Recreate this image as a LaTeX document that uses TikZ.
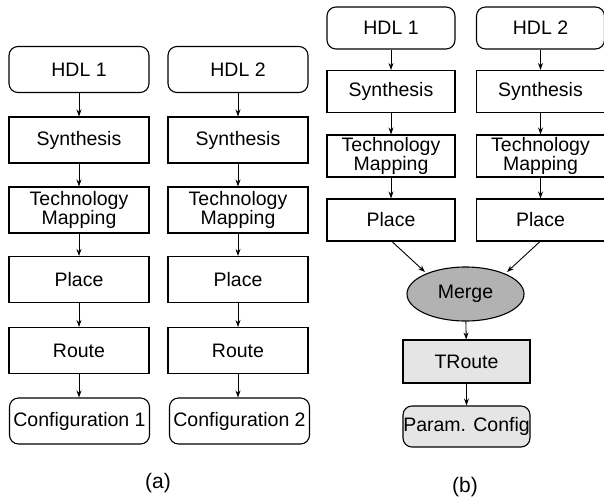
\documentclass[tikz,border=0pt]{standalone}
\usepackage{fontspec}
\setmainfont{Liberation Sans}
\usetikzlibrary{arrows.meta,shapes.geometric}
\begin{document}
\begin{tikzpicture}[x=1pt,y=-1pt,
  every node/.style={font=\fontsize{19.5}{19.5}\selectfont, inner sep=0pt, align=center},
  boxa/.style={draw, line width=1.1pt, minimum width=140pt, minimum height=46pt},
  rboxa/.style={boxa, rounded corners=9pt},
  boxb/.style={draw, line width=1.1pt, minimum width=128pt, minimum height=42pt},
  rboxb/.style={boxb, rounded corners=9pt},
  arr/.style={-{Stealth[length=7pt,width=5pt]}, line width=0.9pt},
  lbl/.style={font=\fontsize{21}{23}\selectfont}
]
\useasboundingbox (0,0) rectangle (604,498);
% (a) column 1
\node[rboxa] (h1) at (79,69.5) {HDL 1};
\node[boxa] (s1) at (79,140) {Synthesis};
\node[boxa] (t1) at (79,210) {Technology\\Mapping};
\node[boxa] (p1) at (79,279.5) {Place};
\node[boxa] (r1) at (79,350.5) {Route};
\node[rboxa] (c1) at (79.5,421) {Configuration 1};
% (a) column 2
\node[rboxa] (h2) at (238,69.5) {HDL 2};
\node[boxa] (s2) at (238,140) {Synthesis};
\node[boxa] (t2) at (238,210) {Technology\\Mapping};
\node[boxa] (p2) at (238,279.5) {Place};
\node[boxa] (r2) at (238,350.5) {Route};
\node[rboxa] (c2) at (239.5,421) {Configuration 2};
\foreach \c in {1,2}{
  \draw[arr] (h\c) -- (s\c);
  \draw[arr] (s\c) -- (t\c);
  \draw[arr] (t\c) -- (p\c);
  \draw[arr] (p\c) -- (r\c);
  \draw[arr] (r\c.south) -- (r\c.south |- c\c.north);
}
% (b)
\node[rboxb] (bh1) at (391,28) {HDL 1};
\node[boxb] (bs1) at (391,91.5) {Synthesis};
\node[boxb] (bt1) at (391,156) {Technology\\Mapping};
\node[boxb] (bp1) at (391,220) {Place};
\node[rboxb] (bh2) at (540.5,28) {HDL 2};
\node[boxb] (bs2) at (540.5,91.5) {Synthesis};
\node[boxb] (bt2) at (540.5,156) {Technology\\Mapping};
\node[boxb] (bp2) at (540.5,220) {Place};
\foreach \c in {1,2}{
  \draw[arr] (bh\c) -- (bs\c);
  \draw[arr] (bs\c) -- (bt\c);
  \draw[arr] (bt\c) -- (bp\c);
}
\node[ellipse, draw, line width=1.1pt, fill=black!30, minimum width=117pt, minimum height=54pt] (mg) at (465.5,294) {Merge};
\node[boxb, fill=black!10, minimum width=127pt, minimum height=43pt] (tr) at (466.5,361.5) {TRoute};
\node[rboxb, fill=black!10, minimum width=127pt, minimum height=41pt] (pc) at (466.5,426.5) {Param. Config};
\coordinate (m1) at (425,272);
\coordinate (m2) at (507,272);
\draw[arr] (bp1.south -| 392,0) -- (m1);
\draw[arr] (bp2.south -| 540,0) -- (m2);
\draw[arr] (mg) -- (tr);
\draw[arr] (tr) -- (pc);
% labels
\node[lbl] (la) at (158,483) {(a)};
\node[lbl] (lb) at (465,487) {(b)};
\end{tikzpicture}
\end{document}
